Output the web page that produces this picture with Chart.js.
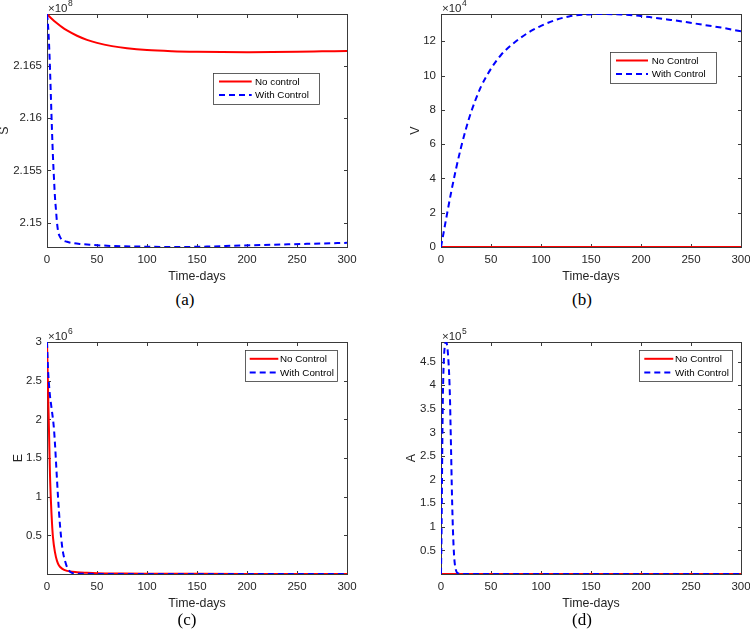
<!DOCTYPE html>
<html><head><meta charset="utf-8">
<script src="https://cdn.jsdelivr.net/npm/chart.js@4.4.1/dist/chart.umd.min.js"></script>
<style>
html,body{margin:0;padding:0;background:#fff;width:750px;height:637px;overflow:hidden;position:relative}
canvas{position:absolute}
.cap{position:absolute;font-family:"Liberation Serif","DejaVu Serif",serif;font-size:17px;color:#000;transform:translate(-50%,-50%);white-space:nowrap}
</style></head><body>
<canvas id="cA"></canvas>
<canvas id="cB"></canvas>
<canvas id="cC"></canvas>
<canvas id="cD"></canvas>
<div class="cap" style="left:185px;top:300px">(a)</div>
<div class="cap" style="left:582px;top:300px">(b)</div>
<div class="cap" style="left:187px;top:620px">(c)</div>
<div class="cap" style="left:582px;top:620px">(d)</div>
<script>
// ---------- shared ----------
const xTicks = [0, 50, 100, 150, 200, 250, 300];
const seriesLabelsA = ['No control', 'With Control'];
const seriesLabels = ['No Control', 'With Control'];

// ---------- (a) S, units of 1e8 ----------
const sTicks = [2.15, 2.155, 2.16, 2.165];
const tS_no = [0, 5, 10, 15, 20, 30, 40, 50, 65, 80, 100, 125, 150, 175, 200, 225, 250, 275, 300];
const S_no = [2.16994, 2.16946, 2.16905, 2.16868, 2.16837, 2.16786, 2.16747, 2.16718, 2.16687, 2.16667, 2.16650, 2.16639, 2.16633, 2.16630, 2.16629, 2.16630, 2.16633, 2.16637, 2.16641];
const tS_with = [0, 1, 2, 3, 4, 5, 6, 7, 8, 9, 10, 11.3, 13, 14.7, 20, 26, 35, 43, 60, 93, 126, 160, 193, 226, 260, 300];
const S_with = [2.16994, 2.1689, 2.1672, 2.1647, 2.1617, 2.1588, 2.1562, 2.1542, 2.1524, 2.1512, 2.1500, 2.1491, 2.14865, 2.14840, 2.14818, 2.14805, 2.14796, 2.14790, 2.14780, 2.14772, 2.14768, 2.14772, 2.14782, 2.14790, 2.14798, 2.14808];

// ---------- (b) V, units of 1e4 ----------
const vTicks = [0, 2, 4, 6, 8, 10, 12];
const tV_no = [0, 300];
const V_no = [0, 0];
const tV_with = [0, 5, 10, 15, 20, 25, 30, 40, 50, 60, 75, 90, 100, 115, 128, 145, 161, 180, 195, 210, 228, 245, 261, 280, 300];
const V_with = [0, 1.6, 3.15, 4.55, 5.8, 6.9, 7.85, 9.35, 10.4, 11.2, 12.0, 12.6, 12.9, 13.25, 13.45, 13.56, 13.59, 13.56, 13.50, 13.40, 13.26, 13.12, 12.97, 12.80, 12.58];

// ---------- (c) E, units of 1e6 ----------
const eTicks = [0.5, 1, 1.5, 2, 2.5, 3];
const tE_no = [0, 1, 2, 3, 4, 5, 6, 8, 10, 12, 15, 20, 25, 30, 40, 50, 75, 100, 150, 200, 300];
const E_no = [3.0, 2.4, 1.85, 1.28, 0.92, 0.66, 0.47, 0.28, 0.17, 0.11, 0.07, 0.04, 0.03, 0.022, 0.015, 0.01, 0.006, 0.004, 0.002, 0.001, 0.001];
const tE_with = [0, 1, 2, 3, 4, 5, 6, 7, 8, 9, 10, 11, 12, 13, 14, 15, 16, 18, 20, 22, 25, 30, 40, 50, 100, 300];
const E_with = [3.0, 2.65, 2.45, 2.3, 2.2, 2.1, 2.0, 1.87, 1.68, 1.45, 1.22, 1.0, 0.8, 0.63, 0.49, 0.37, 0.28, 0.17, 0.09, 0.045, 0.015, 0.005, 0.002, 0.001, 0.001, 0.001];

// ---------- (d) A, units of 1e5 ----------
const aTicks = [0.5, 1, 1.5, 2, 2.5, 3, 3.5, 4, 4.5];
const tA_no = [0, 300];
const A_no = [0, 0];
const tA_with = [0, 0.5, 1, 1.5, 2, 3, 4, 5, 6, 7, 8, 9, 9.5, 10, 11, 12, 13, 14, 15, 16, 18, 20, 30, 300];
const A_with = [0, 0.8, 2.0, 3.1, 3.9, 4.6, 4.85, 4.915, 4.86, 4.65, 4.3, 3.7, 3.2, 2.7, 1.65, 0.9, 0.42, 0.18, 0.08, 0.03, 0.01, 0.003, 0.001, 0.001];

const FONT = '"Liberation Sans", Arial, Helvetica, sans-serif';
const TXT = '#262626';

const matlabAxes = {
  id: 'matlabAxes',
  beforeDatasetsDraw(chart, args, o) {
    const ctx = chart.ctx, ca = chart.chartArea;
    const xs = chart.scales.x, ys = chart.scales.y;
    const l = Math.round(ca.left) + 0.5, r = Math.round(ca.right) + 0.5;
    const t = Math.round(ca.top) + 0.5, b = Math.round(ca.bottom) + 0.5;
    ctx.save();
    ctx.strokeStyle = '#3a3a3a';
    ctx.lineWidth = 1;
    ctx.strokeRect(l, t, r - l, b - t);
    const tl = 3.5;
    ctx.beginPath();
    ys.ticks.forEach(tk => {
      const py = Math.round(ys.getPixelForValue(tk.value)) + 0.5;
      ctx.moveTo(l, py); ctx.lineTo(l + tl, py);
      ctx.moveTo(r, py); ctx.lineTo(r - tl, py);
    });
    xs.ticks.forEach(tk => {
      const px = Math.round(xs.getPixelForValue(tk.value)) + 0.5;
      ctx.moveTo(px, b); ctx.lineTo(px, b - tl);
      ctx.moveTo(px, t); ctx.lineTo(px, t + tl);
    });
    ctx.stroke();
    ctx.restore();
  },
  afterDraw(chart, args, o) {
    const ctx = chart.ctx, ca = chart.chartArea;
    ctx.save();
    // exponent label
    ctx.fillStyle = TXT;
    ctx.textBaseline = 'alphabetic';
    ctx.textAlign = 'left';
    ctx.font = '11.5px ' + FONT;
    const base = '\u00D710';
    ctx.fillText(base, ca.left + 1, ca.top - 2.5);
    const w = ctx.measureText(base).width;
    ctx.font = '8.5px ' + FONT;
    ctx.fillText(o.exp, ca.left + 1 + w + 0.5, ca.top - 8);
    // legend
    const lg = o.legend;
    const x0 = ca.left + lg.dx, y0 = ca.top + lg.dy;
    ctx.fillStyle = '#fff';
    ctx.fillRect(x0, y0, lg.w, lg.h);
    ctx.strokeStyle = '#3a3a3a';
    ctx.lineWidth = 0.8;
    ctx.strokeRect(Math.round(x0) + 0.5, Math.round(y0) + 0.5, Math.round(lg.w), Math.round(lg.h));
    const rows = [8.8, 22.4];
    const dss = chart.data.datasets;
    dss.forEach((ds, i) => {
      const yy = y0 + rows[i];
      ctx.beginPath();
      ctx.setLineDash(ds.borderDash || []);
      ctx.strokeStyle = ds.borderColor;
      ctx.lineWidth = ds.borderWidth;
      ctx.moveTo(x0 + lg.lx, yy);
      ctx.lineTo(x0 + lg.lx + lg.ll, yy);
      ctx.stroke();
      ctx.setLineDash([]);
      ctx.fillStyle = '#000';
      ctx.font = '9.8px ' + FONT;
      ctx.textBaseline = 'middle';
      ctx.fillText(ds.label, x0 + lg.lx + lg.ll + lg.tx, yy + 0.5);
    });
    ctx.restore();
  }
};

function pts(t, v) { return t.map((x, i) => ({x: x, y: v[i]})); }

function makePanel(p) {
  const cv = document.getElementById(p.id);
  cv.width = p.W; cv.height = p.H;
  cv.style.left = p.L + 'px'; cv.style.top = p.T + 'px';
  cv.style.width = p.W + 'px'; cv.style.height = p.H + 'px';
  new Chart(cv, {
    type: 'line',
    data: {
      datasets: [
        {label: p.labels[0], data: pts(p.t0, p.v0), borderColor: '#ff0000', borderWidth: 2, pointRadius: 0, fill: false, cubicInterpolationMode: 'monotone', order: 1},
        {label: p.labels[1], data: pts(p.t1, p.v1), borderColor: '#0000ff', borderWidth: 2, borderDash: [6, 4], pointRadius: 0, fill: false, cubicInterpolationMode: 'monotone', order: 0}
      ]
    },
    options: {
      responsive: false, animation: false, devicePixelRatio: 1,
      layout: {padding: {left: 0, right: p.padRight, top: p.padTop, bottom: 0}},
      plugins: {legend: {display: false}, tooltip: {enabled: false}, matlabAxes: {exp: p.exp, legend: p.legend}},
      scales: {
        x: {
          type: 'linear', min: 0, max: 300,
          afterBuildTicks: s => { s.ticks = xTicks.map(v => ({value: v})); },
          afterFit: s => { s.height = 37; s.paddingLeft = 0; s.paddingRight = 0; },
          grid: {display: false, drawTicks: false}, border: {display: false},
          ticks: {font: {family: FONT, size: 11.5}, color: TXT, padding: 5.5, maxRotation: 0, autoSkip: false, callback: v => String(v)},
          title: {display: true, text: 'Time-days', font: {family: FONT, size: 12.4}, color: TXT, padding: 0}
        },
        y: {
          type: 'linear', min: p.yMin, max: p.yMax,
          afterBuildTicks: s => { s.ticks = p.yTicks.map(v => ({value: v})); },
          afterFit: s => { s.width = p.yW; s.paddingTop = 0; s.paddingBottom = 0; },
          grid: {display: false, drawTicks: false}, border: {display: false},
          ticks: {font: {family: FONT, size: 11.5}, color: TXT, padding: 5, autoSkip: false, callback: v => String(v)},
          title: {display: true, text: p.yTitle, font: {family: FONT, size: 12.4}, color: TXT, padding: 0}
        }
      }
    },
    plugins: [matlabAxes]
  });
}

makePanel({id: 'cA', L: -3, T: 0, W: 375, H: 284, padTop: 14, padRight: 25, yW: 50,
  yTitle: 'S', exp: '8', yMin: 2.14768, yMax: 2.16994, yTicks: sTicks,
  t0: tS_no, v0: S_no, t1: tS_with, v1: S_with, labels: seriesLabelsA,
  legend: {dx: 166.3, dy: 58.7, w: 106, h: 31, lx: 5.7, ll: 32.7, tx: 3.3}});
makePanel({id: 'cB', L: 408, T: 0, W: 342, H: 284, padTop: 14, padRight: 9, yW: 33,
  yTitle: 'V', exp: '4', yMin: 0, yMax: 13.59, yTicks: vTicks,
  t0: tV_no, v0: V_no, t1: tV_with, v1: V_with, labels: seriesLabels,
  legend: {dx: 169.3, dy: 37.7, w: 106, h: 31, lx: 5.7, ll: 32, tx: 3.7}});
makePanel({id: 'cC', L: 11, T: 320, W: 361, H: 291, padTop: 22, padRight: 25, yW: 36,
  yTitle: 'E', exp: '6', yMin: 0, yMax: 3.0, yTicks: eTicks,
  t0: tE_no, v0: E_no, t1: tE_with, v1: E_with, labels: seriesLabels,
  legend: {dx: 198, dy: 8, w: 92, h: 31, lx: 4.7, ll: 28.6, tx: 1.7}});
makePanel({id: 'cD', L: 404, T: 320, W: 346, H: 291, padTop: 22, padRight: 9, yW: 37,
  yTitle: 'A', exp: '5', yMin: 0, yMax: 4.915, yTicks: aTicks,
  t0: tA_no, v0: A_no, t1: tA_with, v1: A_with, labels: seriesLabels,
  legend: {dx: 198.3, dy: 8, w: 93, h: 31, lx: 5, ll: 29, tx: 1.7}});
</script>
</body></html>
